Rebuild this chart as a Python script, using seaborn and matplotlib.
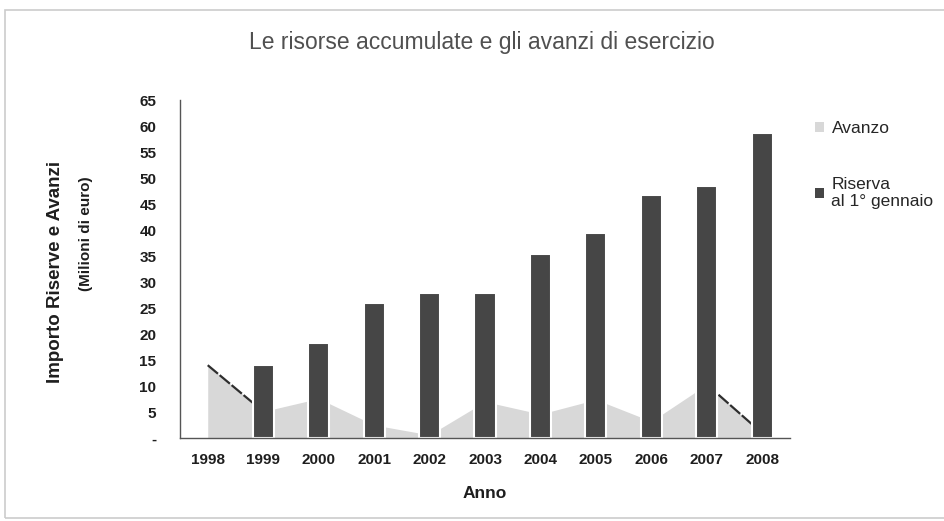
import numpy as np
import pandas as pd
import seaborn as sns
import matplotlib.pyplot as plt
from matplotlib.patches import Patch, Rectangle

# dati (milioni di euro)
anni = ['1998', '1999', '2000', '2001', '2002', '2003', '2004', '2005', '2006', '2007', '2008']
riserva = [np.nan, 14.1, 18.3, 25.9, 27.9, 27.9, 35.3, 39.4, 46.7, 48.5, 58.7]
avanzo = [14.0, 5.1, 7.6, 2.5, 0.6, 7.0, 4.6, 7.4, 3.2, 10.3, 0.9]
y_ticks = list(range(0, 70, 5))
y_labels = ['-'] + [str(v) for v in y_ticks[1:]]

col_riserva = '#464646'
col_avanzo = '#d8d8d8'

sns.set_style('white')
plt.rcParams['font.family'] = ['Liberation Sans', 'DejaVu Sans']

df = pd.DataFrame({'Anno': anni, 'Riserva': riserva, 'Avanzo': avanzo})
pos = np.arange(len(anni))

fig = plt.figure(figsize=(9.44, 5.21), dpi=100)
ax = fig.add_axes([180 / 944, 83 / 521, 610 / 944, 338 / 521])

# area degli avanzi
ax.fill_between(pos, df['Avanzo'], 0, color=col_avanzo, lw=0, zorder=1)
# tratti scuri sul bordo dell'area (1998-1999 e 2007-2008)
for a, b in [(0, 1), (9, 10)]:
    sns.lineplot(x=pos[a:b + 1], y=df['Avanzo'].values[a:b + 1], ax=ax, color='#2e2e2e',
                 lw=1.6, linestyle=(0, (6, 1)), zorder=2)

# barre della riserva
sns.barplot(data=df, x='Anno', y='Riserva', ax=ax, color=col_riserva, saturation=1,
            width=0.38, edgecolor='white', linewidth=1.5, zorder=3)

ax.set_xlim(-0.5, 10.5)
ax.set_ylim(0, 65)
ax.set_yticks(y_ticks)
ax.set_yticklabels(y_labels, fontsize=11, fontweight='bold', color='#1e1e1e')
ax.set_xticks(pos)
ax.set_xticklabels(anni, fontsize=11, fontweight='bold', color='#1e1e1e')
ax.set_xticks(np.arange(-0.5, 11, 1), minor=True)
ax.tick_params(axis='x', which='major', length=0, pad=11)
ax.tick_params(axis='x', which='minor', direction='inout', length=8, width=1, color='#555555')
ax.tick_params(axis='y', direction='inout', length=8, width=1, color='#555555', pad=13)
ax.set_xlabel('')
ax.set_ylabel('')

for s in ['top', 'right']:
    ax.spines[s].set_visible(False)
for s in ['left', 'bottom']:
    ax.spines[s].set_color('#555555')
    ax.spines[s].set_linewidth(1)
    ax.spines[s].set_zorder(10)

fig.text(482 / 944, 1 - 42 / 521, 'Le risorse accumulate e gli avanzi di esercizio',
         ha='center', va='center', fontsize=16.5, color='#505050')
fig.text(485 / 944, 1 - 494 / 521, 'Anno', ha='center', va='center',
         fontsize=12.5, fontweight='bold', color='#1e1e1e')
fig.text(56 / 944, 1 - 272 / 521, 'Importo Riserve e Avanzi', ha='center', va='center',
         rotation=90, fontsize=13.5, fontweight='bold', color='#1e1e1e')
fig.text(86 / 944, 1 - 234 / 521, '(Milioni di euro)', ha='center', va='center',
         rotation=90, fontsize=11, fontweight='bold', color='#1e1e1e')

handles = [Patch(facecolor=col_avanzo, edgecolor='none'),
           Patch(facecolor=col_riserva, edgecolor='none')]
fig.legend(handles, ['Avanzo', 'Riserva\nal 1° gennaio'], loc='upper left',
           bbox_to_anchor=(815 / 944, 1 - 121 / 521), frameon=False, fontsize=12.5,
           handlelength=0.5, handleheight=0.5, handletextpad=0.45, labelspacing=2.35,
           borderaxespad=0, borderpad=0)

# cornice esterna del grafico
fig.patches.append(Rectangle((5 / 944, 3 / 521), 1.1, 508 / 521, transform=fig.transFigure,
                             fill=False, edgecolor='#cccccc', lw=1.2))

fig.savefig('out.png', dpi=100)
